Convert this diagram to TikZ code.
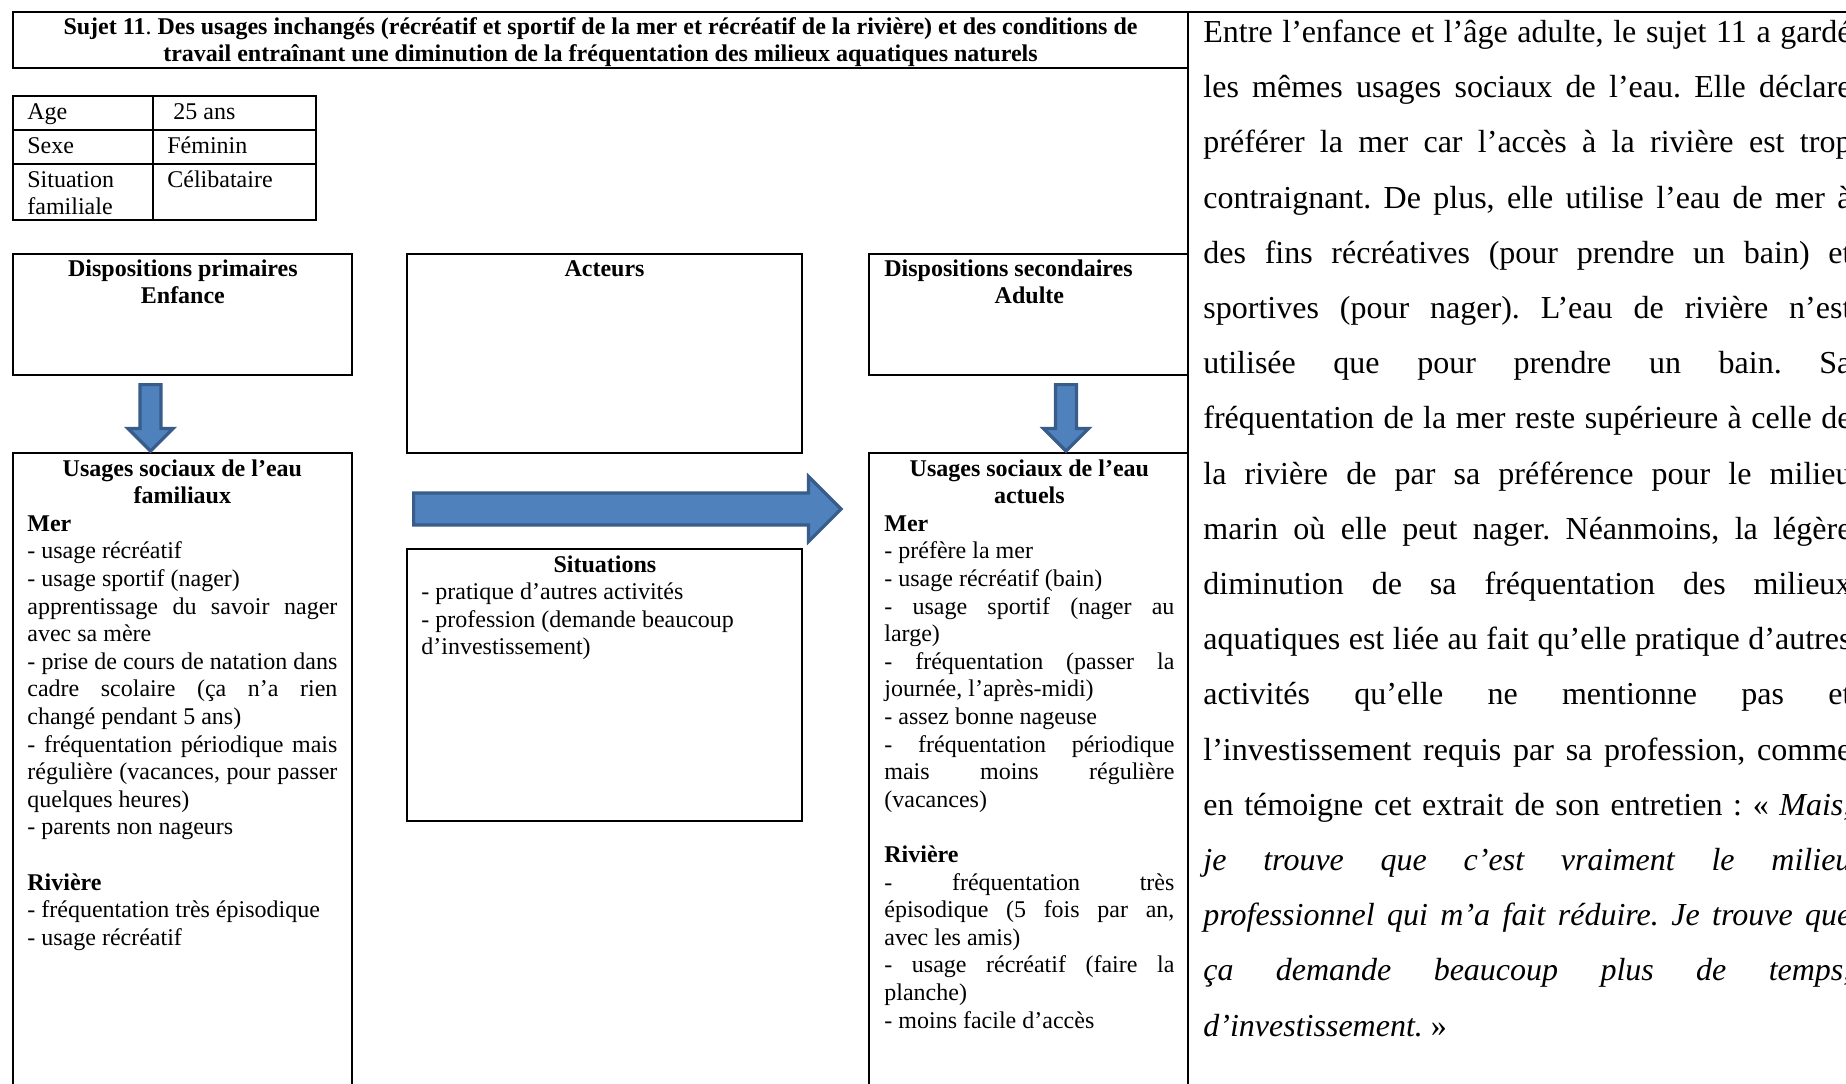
\documentclass[tikz,border=0pt]{standalone}
\usepackage{fontspec}
\setmainfont{Liberation Serif}
\usetikzlibrary{shapes.arrows,fit,calc,positioning}
\frenchspacing

\definecolor{pfeilblau}{HTML}{4F81BD}
\definecolor{pfeilrand}{HTML}{385D8A}

% Blocksatzzeile
\newcommand{\jl}[1]{\makebox[\linewidth][s]{#1}}

\tikzset{
  rahmen/.style={draw=black, line width=0.8pt},
  kasten/.style={rahmen, inner sep=0pt, outer sep=0pt},
  inhalt/.style={inner sep=0pt, anchor=base west, font=\fontsize{12}{13.8}\selectfont},
  blockpfeil/.style={single arrow, draw=pfeilrand, fill=pfeilblau, line width=1.6pt,
    single arrow head indent=0pt, outer sep=0pt},
}

\begin{document}
\begin{tikzpicture}[x=0.5pt, y=-0.5pt]
	\useasboundingbox (0,0) rectangle (1846,1083);
	\clip (0,0) rectangle (1846,1083);
	\fill[white] (0,0) rectangle (1846,1083);

	% Titel
	\node[kasten, fit={(13,12) (1188,68)}] (titel) {};
	\node[inhalt, anchor=base] (titeltext) at ($(titel.north)+(0,22)$) {\parbox[t]{575pt}{\centering\bfseries
		Sujet 11\textmd{.} Des usages inchangés (récréatif et sportif de la mer et récréatif de la rivière) et des conditions de\\
		travail entraînant une diminution de la fréquentation des milieux aquatiques naturels}};
	% Trennlinie und obere Linie
	\draw[rahmen] (titel.north east) -- ($(titel.north east)+(0,1100)$);
	\draw[rahmen] (titel.north east) -- ($(titel.north east)+(700,0)$);

	% Tabelle
	\foreach \oben/\unten/\merkmal/\wert [count=\r] in {
		96/130/Age/{\hspace*{3pt}25 ans},
		130/164/Sexe/Féminin,
		164/220/{Situation\\familiale}/Célibataire
	} {
		\node[kasten, fit={(13,\oben) (153,\unten)}] (merkmal\r) {};
		\node[kasten, fit={(153,\oben) (316,\unten)}] (wert\r) {};
		\node[inhalt] (merkmaltext\r) at ($(merkmal\r.north west)+(14,23)$) {\parbox[t]{60pt}{\merkmal}};
		\node[inhalt] (werttext\r) at ($(wert\r.north west)+(14,23)$) {\wert};
	}

	% Kaesten
	\node[kasten, fit={(13,254) (352,375)}] (prim) {};
	\node[kasten, fit={(407,254) (802,453)}] (akteure) {};
	\node[kasten, fit={(869,254) (1188,375)}] (sek) {};
	\node[kasten, fit={(13,453) (352,1100)}] (fam) {};
	\node[kasten, fit={(869,453) (1188,1100)}] (aktuell) {};
	\node[kasten, fit={(407,549) (802,821)}] (situation) {};

	% Kopfzeilen
	\node[inhalt] (primtext) at ($(prim.north west)+(14,22)$) {\parbox[t]{155.5pt}{\centering\bfseries
		Dispositions primaires\\Enfance}};
	\node[inhalt, anchor=base] (akteuretext) at ($(akteure.north)+(0,22)$) {\textbf{Acteurs}};
	\node[inhalt] (sektext) at ($(sek.north west)+(15,22)$) {\parbox[t]{145pt}{\bfseries
		Dispositions secondaires\\\makebox[\linewidth]{Adulte}}};

	% Usages familiaux
	\node[inhalt] (famtext) at ($(fam.north west)+(14,23)$) {\parbox[t]{155pt}{%
		{\centering\bfseries Usages sociaux de l’eau\\familiaux\par}
		\textbf{Mer}\\
		- usage récréatif\\
		- usage sportif (nager)\\
		\jl{apprentissage du savoir nager}\\
		avec sa mère\\
		\jl{- prise de cours de natation dans}\\
		\jl{cadre scolaire (ça n’a rien}\\
		changé pendant 5 ans)\\
		\jl{- fréquentation périodique mais}\\
		\jl{régulière (vacances, pour passer}\\
		quelques heures)\\
		- parents non nageurs\\[13.8pt]
		\textbf{Rivière}\\
		- fréquentation très épisodique\\
		- usage récréatif}};

	% Usages actuels
	\node[inhalt] (aktuelltext) at ($(aktuell.north west)+(15,23)$) {\parbox[t]{145pt}{%
		{\centering\bfseries Usages sociaux de l’eau\\actuels\par}
		\textbf{Mer}\\
		- préfère la mer\\
		- usage récréatif (bain)\\
		\jl{- usage sportif (nager au}\\
		large)\\
		\jl{- fréquentation (passer la}\\
		journée, l’après-midi)\\
		- assez bonne nageuse\\
		\jl{- fréquentation périodique}\\
		\jl{mais moins régulière}\\
		(vacances)\\[13.8pt]
		\textbf{Rivière}\\
		\jl{- fréquentation très}\\
		\jl{épisodique (5 fois par an,}\\
		avec les amis)\\
		\jl{- usage récréatif (faire la}\\
		planche)\\
		- moins facile d’accès}};

	% Situations
	\node[inhalt] (situationtext) at ($(situation.north west)+(14,23)$) {\parbox[t]{183.5pt}{%
		{\centering\bfseries Situations\par}
		- pratique d’autres activités\\
		- profession (demande beaucoup\\
		d’investissement)}};

	% Pfeile
	\node[blockpfeil, shape border rotate=270, minimum height=33.2pt, inner sep=4.45pt,
		single arrow head extend=6pt, anchor=tip] (pfeilprim) at ($(fam.north west)+(137.5,-2)$) {};
	\node[blockpfeil, shape border rotate=270, minimum height=33.2pt, inner sep=4.45pt,
		single arrow head extend=6pt, anchor=tip] (pfeilsek) at ($(aktuell.north west)+(197,-2)$) {};
	\node[blockpfeil, minimum height=213.7pt, inner sep=7.2pt,
		single arrow head extend=8.25pt, anchor=tip] (pfeilmitte) at ($(aktuell.north west)+(-28,56)$) {};

	% Text rechts
	\foreach \zeile [count=\i from 0] in {
		{Entre l’enfance et l’âge adulte, le sujet 11 a gardé},
		{les mêmes usages sociaux de l’eau. Elle déclare},
		{préférer la mer car l’accès à la rivière est trop},
		{contraignant. De plus, elle utilise l’eau de mer à},
		{des fins récréatives (pour prendre un bain) et},
		{sportives (pour nager). L’eau de rivière n’est},
		{utilisée que pour prendre un bain. Sa},
		{fréquentation de la mer reste supérieure à celle de},
		{la rivière de par sa préférence pour le milieu},
		{marin où elle peut nager. Néanmoins, la légère},
		{diminution de sa fréquentation des milieux},
		{aquatiques est liée au fait qu’elle pratique d’autres},
		{activités qu’elle ne mentionne pas et},
		{l’investissement requis par sa profession, comme},
		{en témoigne cet extrait de son entretien : « \textit{Mais,}},
		{\textit{je trouve que c’est vraiment le milieu}},
		{\textit{professionnel qui m’a fait réduire. Je trouve que}},
		{\textit{ça demande beaucoup plus de temps,}},
		{\textit{d’investissement.} »}
	} {
		\node[inhalt, font=\fontsize{16}{27.6}\selectfont] (bericht\i)
			at ($(titel.north east)+(15,{30.5+\i*55.2})$)
			{\ifnum\i<18 \makebox[324pt][s]{\zeile}\else\zeile\fi};
	}
\end{tikzpicture}
\end{document}
